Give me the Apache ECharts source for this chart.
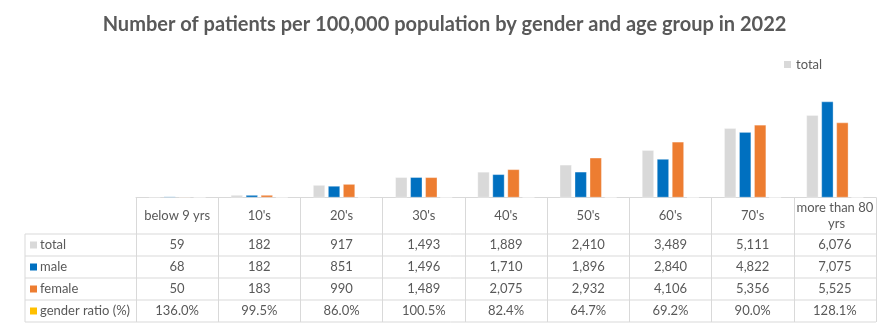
<!DOCTYPE html>
<html>
<head>
<meta charset="utf-8">
<script src="https://cdn.jsdelivr.net/npm/echarts@6/dist/echarts.min.js"></script>
<style>
  html, body { margin: 0; padding: 0; background: #ffffff; }
  #chart { width: 889px; height: 329px; }
</style>
</head>
<body>
<div id="chart"></div>
<script>
// Age groups and values (patients per 100,000 population, 2022)
const categories = ['below 9 yrs', "10's", "20's", "30's", "40's", "50's", "60's", "70's", 'more than 80 yrs'];
const totalValues = [59, 182, 917, 1493, 1889, 2410, 3489, 5111, 6076];
const maleValues = [68, 182, 851, 1496, 1710, 1896, 2840, 4822, 7075];
const femaleValues = [50, 183, 990, 1489, 2075, 2932, 4106, 5356, 5525];
const genderRatioPct = [136.0, 99.5, 86.0, 100.5, 82.4, 64.7, 69.2, 90.0, 128.1];
const seriesNames = ['total', 'male', 'female', 'gender ratio (%)'];
const seriesColors = ['#D9D9D9', '#0070C0', '#ED7D31', '#FFC000'];

// Styling and layout
const FONT = 'Lato, "Liberation Sans", sans-serif';
const TEXT = '#595959';
const LINE = '#D9D9D9';
const CHART_H = 329;
const plotLeft = 136, plotRight = 876;
const axisY = 197.5, plotTop = 89;
const headerBottom = 234, rowH = 22, tableLeft = 25;
const tableBottom = headerBottom + 4 * rowH;

const fmtInt = v => v.toLocaleString('en-US');
const fmtPct = v => v.toFixed(1) + '%';

// One text row of the data table per series, drawn as axis labels
const rowTexts = [
  totalValues.map(fmtInt),
  maleValues.map(fmtInt),
  femaleValues.map(fmtInt),
  genderRatioPct.map(fmtPct)
];

const labelStyle = { fontFamily: FONT, fontSize: 13, color: TEXT };

const xAxes = [{
  type: 'category',
  data: categories,
  position: 'bottom',
  axisLine: { show: true, lineStyle: { color: LINE, width: 1 } },
  axisTick: { show: true, interval: 0, length: tableBottom - axisY, lineStyle: { color: LINE, width: 1 } },
  axisLabel: Object.assign({
    interval: 0, margin: (headerBottom - axisY) / 2, verticalAlign: 'middle',
    width: 78, overflow: 'break', lineHeight: 16
  }, labelStyle)
}];
rowTexts.forEach((texts, r) => {
  xAxes.push({
    type: 'category',
    data: texts,
    position: 'bottom',
    axisLine: { show: false },
    axisTick: { show: false },
    axisLabel: Object.assign({
      interval: 0,
      margin: headerBottom + rowH * (r + 0.5) - axisY,
      verticalAlign: 'middle'
    }, labelStyle)
  });
});

// Table rules: horizontal row lines and the left border of the row-name column
const tableLines = [];
for (let r = 0; r <= 4; r++) {
  const y = headerBottom + r * rowH;
  tableLines.push({
    type: 'line', silent: true,
    shape: { x1: tableLeft, y1: y, x2: plotRight, y2: y },
    style: { stroke: LINE, lineWidth: 1 }
  });
}
tableLines.push({
  type: 'line', silent: true,
  shape: { x1: tableLeft, y1: headerBottom, x2: tableLeft, y2: tableBottom },
  style: { stroke: LINE, lineWidth: 1 }
});

const seriesData = [totalValues, maleValues, femaleValues, genderRatioPct.map(v => v / 100)];

const option = {
  animation: false,
  backgroundColor: '#ffffff',
  title: {
    text: 'Number of patients per 100,000 population by gender and age group in 2022',
    left: 'center',
    top: 10,
    textStyle: { fontFamily: FONT, fontSize: 20, fontWeight: 'bold', color: TEXT }
  },
  legend: [{
    data: ['total'],
    left: 779, top: 53,
    itemWidth: 7, itemHeight: 7, itemGap: 10,
    icon: 'rect',
    itemStyle: { borderWidth: 0 },
    textStyle: { fontFamily: FONT, fontSize: 13, color: TEXT }
  }, {
    data: seriesNames,
    orient: 'vertical',
    left: 30, top: headerBottom + (rowH - 14) / 2,
    itemWidth: 7, itemHeight: 7, itemGap: rowH - 14,
    icon: 'rect',
    itemStyle: { borderWidth: 0 },
    padding: 0,
    textStyle: { fontFamily: FONT, fontSize: 13, color: TEXT, lineHeight: 14, padding: [0, 0, 0, -2] }
  }],
  grid: {
    left: plotLeft,
    right: 889 - plotRight,
    top: plotTop,
    bottom: CHART_H - axisY,
    containLabel: false
  },
  xAxis: xAxes,
  yAxis: { type: 'value', min: 0, max: 8000, show: false, splitLine: { show: false } },
  graphic: tableLines,
  series: seriesNames.map((name, i) => ({
    name: name,
    type: 'bar',
    xAxisIndex: 0,
    data: seriesData[i],
    barWidth: 12,
    barGap: '25%',
    itemStyle: { color: seriesColors[i], borderColor: 'rgba(255,255,255,0.55)', borderWidth: 0.6 }
  }))
};

const chart = echarts.init(document.getElementById('chart'), null, { renderer: 'canvas' });
chart.setOption(option);
</script>
</body>
</html>
